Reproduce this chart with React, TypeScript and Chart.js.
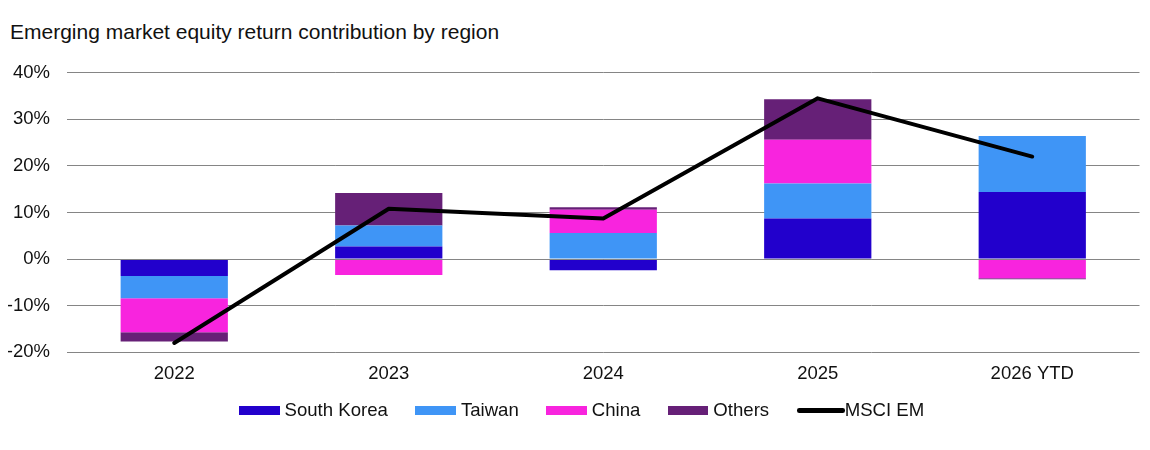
import React, { useEffect, useRef } from "react";
import { Chart, registerables } from "chart.js";

Chart.register(...registerables);

// Calendar periods on the x axis
const categories = ["2022", "2023", "2024", "2025", "2026 YTD"];

// Contribution to total return, percentage points
const southKorea = [-3.6, 2.7, -2.4, 8.7, 14.4];
const taiwan = [-4.8, 4.5, 5.6, 7.5, 12.0];
const china = [-7.3, -3.4, 5.0, 9.4, -4.1];
const others = [-2.0, 7.0, 0.5, 8.7, -0.2];

// Index total return, %
const msciEm = [-18.0, 10.8, 8.7, 34.5, 22.0];

const yTicks = [-20, -10, 0, 10, 20, 30, 40];

const FONT = "'Liberation Sans', Arial, Helvetica, sans-serif";
const TEXT = "#111111";
const GRID = "#858585";

const series = [
  { label: "South Korea", data: southKorea, color: "#2200cc" },
  { label: "Taiwan", data: taiwan, color: "#3f95f6" },
  { label: "China", data: china, color: "#f824de" },
  { label: "Others", data: others, color: "#662077" },
];

// Draws the zero line over the bars but beneath the index line
const zeroLine = {
  id: "zeroLine",
  beforeDatasetDraw(chart: any, args: any) {
    if (args.index !== series.length) return;
    const { ctx, chartArea, scales } = chart;
    const y = Math.round(scales.y.getPixelForValue(0)) + 0.5;
    ctx.save();
    ctx.strokeStyle = GRID;
    ctx.lineWidth = 1;
    ctx.beginPath();
    ctx.moveTo(chartArea.left, y);
    ctx.lineTo(chartArea.right, y);
    ctx.stroke();
    ctx.restore();
  },
};

export default function App() {
  const canvasRef = useRef<HTMLCanvasElement | null>(null);

  useEffect(() => {
    if (!canvasRef.current) return;
    const chart = new Chart(canvasRef.current, {
      type: "bar",
      data: {
        labels: categories,
        datasets: [
          ...series.map((s) => ({
            type: "bar" as const,
            label: s.label,
            data: s.data,
            backgroundColor: s.color,
            borderWidth: 0,
            stack: "regions",
            order: 1,
            categoryPercentage: 1,
            barPercentage: 0.5,
          })),
          {
            type: "line" as const,
            label: "MSCI EM",
            data: msciEm,
            borderColor: "#000000",
            backgroundColor: "#000000",
            borderWidth: 4,
            borderCapStyle: "round",
            borderJoinStyle: "round",
            pointRadius: 0,
            pointHoverRadius: 0,
            tension: 0,
            stack: "index",
            order: 0,
          } as any,
        ],
      },
      options: {
        animation: false,
        responsive: true,
        maintainAspectRatio: false,
        layout: { padding: { top: 64.7, right: 2.5, bottom: 15.7, left: 0 } },
        plugins: {
          legend: { display: false },
          tooltip: { enabled: false },
          title: { display: false },
        },
        scales: {
          x: {
            stacked: true,
            grid: { display: false, drawTicks: false },
            border: { display: false },
            ticks: {
              color: TEXT,
              padding: 11,
              font: { family: FONT, size: 18.5 },
            },
            afterFit: (scale: any) => {
              scale.height = 40;
            },
          },
          y: {
            stacked: true,
            min: -20,
            max: 40,
            afterBuildTicks: (scale: any) => {
              scale.ticks = yTicks.map((v) => ({ value: v }));
            },
            grid: {
              color: GRID,
              lineWidth: 1,
              drawTicks: false,
            },
            border: { display: false },
            ticks: {
              color: TEXT,
              padding: 17,
              font: { family: FONT, size: 18.5 },
              callback: (v: any) => `${v}%`,
            },
            afterFit: (scale: any) => {
              scale.width = 59;
            },
          },
        },
      },
      plugins: [zeroLine],
    });
    return () => chart.destroy();
  }, []);

  const legendItems = [
    ...series.map((s) => ({ label: s.label, color: s.color, line: false })),
    { label: "MSCI EM", color: "#000000", line: true },
  ];

  return (
    <div
      style={{
        position: "relative",
        width: 1134,
        height: 434,
        fontFamily: FONT,
        color: TEXT,
      }}
    >
      <div
        style={{
          position: "absolute",
          left: 2,
          top: 13.2,
          fontSize: 21,
          lineHeight: "21px",
          whiteSpace: "nowrap",
        }}
      >
        Emerging market equity return contribution by region
      </div>
      <div style={{ position: "absolute", left: 0, top: 0, width: 1134, height: 400 }}>
        <canvas ref={canvasRef} />
      </div>
      <div
        style={{
          position: "absolute",
          left: 231,
          top: 393,
          display: "flex",
          alignItems: "center",
          gap: 27.5,
          fontSize: 18.6,
          lineHeight: "18.6px",
          whiteSpace: "nowrap",
        }}
      >
        {legendItems.map((it) => (
          <div key={it.label} style={{ display: "flex", alignItems: "center" }}>
            {it.line ? (
              <span
                style={{
                  display: "inline-block",
                  width: 48,
                  height: 4.5,
                  borderRadius: 2.25,
                  background: it.color,
                }}
              />
            ) : (
              <span
                style={{
                  display: "inline-block",
                  width: 40.5,
                  height: 9,
                  marginRight: 5,
                  background: it.color,
                }}
              />
            )}
            <span>{it.label}</span>
          </div>
        ))}
      </div>
    </div>
  );
}
